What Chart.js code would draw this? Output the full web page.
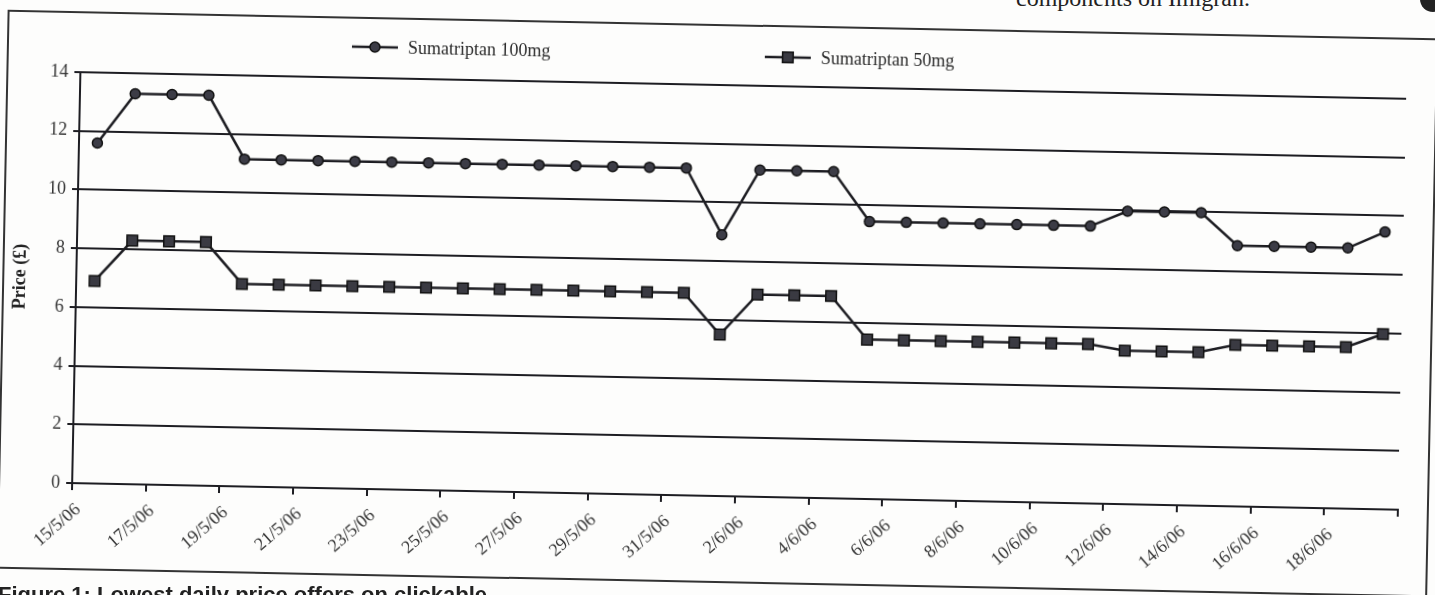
<!DOCTYPE html>
<html>
<head>
<meta charset="utf-8">
<script src="https://cdn.jsdelivr.net/npm/chart.js@4.4.0/dist/chart.umd.min.js"></script>
<style>
  html, body { margin: 0; padding: 0; background: #fdfdfc; overflow: hidden; }
  body { width: 1435px; height: 595px; position: relative; }
  /* the scanned figure sits slightly skewed on the page */
  #fig { position: absolute; left: 0; top: 0; width: 1435px; height: 595px;
         transform-origin: 717.5px 297.5px; transform: rotate(1.15deg); }
  #frame { position: absolute; left: 2px; top: 24px; width: 1431px; height: 559px;
           box-sizing: border-box; border: 2px solid #333; }
  #chart { position: absolute; left: 0; top: 0; }
  #caption { position: absolute; left: -2px; top: 582px; white-space: nowrap;
             font: bold 22px "Liberation Sans", Arial, sans-serif; color: #222; }
  #pagetext { position: absolute; right: 185px; top: -15px; line-height: 1; white-space: nowrap;
              font: 24px "Liberation Serif", serif; color: #222; }
  #dot { position: absolute; left: 1420px; top: -14px; width: 26px; height: 26px;
         border-radius: 50%; background: #222; }
</style>
</head>
<body>
<div id="pagetext">components on Imigran.</div>
<div id="dot"></div>
<div id="fig">
  <div id="frame"></div>
  <canvas id="chart" width="1435" height="595"></canvas>
</div>
<div id="caption">Figure 1: Lowest daily price offers on clickable</div>
<script>
var days = ['15/5/06', '16/5/06', '17/5/06', '18/5/06', '19/5/06', '20/5/06', '21/5/06', '22/5/06',
  '23/5/06', '24/5/06', '25/5/06', '26/5/06', '27/5/06', '28/5/06', '29/5/06', '30/5/06', '31/5/06',
  '1/6/06', '2/6/06', '3/6/06', '4/6/06', '5/6/06', '6/6/06', '7/6/06', '8/6/06', '9/6/06', '10/6/06',
  '11/6/06', '12/6/06', '13/6/06', '14/6/06', '15/6/06', '16/6/06', '17/6/06', '18/6/06', '19/6/06'];

var price100 = [11.6, 13.3, 13.3, 13.3, 11.15, 11.15, 11.15, 11.15, 11.15, 11.15, 11.15, 11.15,
  11.15, 11.15, 11.15, 11.15, 11.15, 8.9, 11.13, 11.13, 11.13, 9.45, 9.45, 9.45, 9.45, 9.45, 9.45,
  9.45, 9.98, 9.98, 9.98, 8.88, 8.88, 8.88, 8.88, 9.45];

var price50 = [6.9, 8.3, 8.3, 8.3, 6.9, 6.9, 6.9, 6.9, 6.9, 6.9, 6.9, 6.9, 6.9, 6.9, 6.9, 6.9, 6.9,
  5.5, 6.89, 6.89, 6.89, 5.43, 5.43, 5.43, 5.43, 5.43, 5.43, 5.43, 5.23, 5.23, 5.23, 5.5, 5.5, 5.5,
  5.5, 5.97];

var yMin = 0, yMax = 14, yStep = 2;

var serif = '"Liberation Serif", "Times New Roman", serif';
var ink = '#1d1d22';

// legend spots (line start x, centre y) for each series
var legendSpots = [{x: 347, y: 54}, {x: 760, y: 56}];

var lineLegend = {
  id: 'lineLegend',
  afterDraw: function (chart) {
    var ctx = chart.ctx;
    ctx.save();
    chart.data.datasets.forEach(function (ds, i) {
      var s = legendSpots[i];
      ctx.strokeStyle = ds.borderColor;
      ctx.lineWidth = ds.borderWidth;
      ctx.beginPath();
      ctx.moveTo(s.x, s.y);
      ctx.lineTo(s.x + 46, s.y);
      ctx.stroke();
      ctx.fillStyle = ds.pointBackgroundColor;
      ctx.strokeStyle = ds.pointBorderColor;
      ctx.lineWidth = ds.pointBorderWidth;
      ctx.beginPath();
      if (ds.pointStyle === 'rect') {
        var h = ds.pointRadius * Math.SQRT1_2;
        ctx.rect(s.x + 23 - h, s.y - h, 2 * h, 2 * h);
      } else {
        ctx.arc(s.x + 23, s.y, ds.pointRadius, 0, Math.PI * 2);
      }
      ctx.fill();
      ctx.stroke();
      ctx.fillStyle = '#2a2a2a';
      ctx.font = '18px ' + serif;
      ctx.textBaseline = 'middle';
      ctx.fillText(ds.label, s.x + 56, s.y + 1);
    });
    ctx.restore();
  }
};

new Chart(document.getElementById('chart'), {
  type: 'line',
  plugins: [lineLegend],
  data: {
    labels: days,
    datasets: [{
      label: 'Sumatriptan 100mg',
      data: price100,
      borderColor: ink, borderWidth: 2.5, tension: 0,
      pointStyle: 'circle', pointRadius: 5,
      pointBackgroundColor: '#3c3c46', pointBorderColor: '#111', pointBorderWidth: 1.5
    }, {
      label: 'Sumatriptan 50mg',
      data: price50,
      borderColor: ink, borderWidth: 2.5, tension: 0,
      pointStyle: 'rect', pointRadius: 7.5,
      pointBackgroundColor: '#3a3a42', pointBorderColor: '#111', pointBorderWidth: 1.5
    }]
  },
  options: {
    responsive: false, animation: false, devicePixelRatio: 1,
    layout: {padding: {left: 0, top: 85, right: 33, bottom: 4}},
    plugins: {legend: {display: false}, tooltip: {enabled: false}},
    scales: {
      x: {
        offset: true,
        afterFit: function (s) { s.height = 95; },
        grid: {
          offset: true, drawOnChartArea: false, drawTicks: true, tickLength: 7, lineWidth: 2,
          color: function (c) { return (c.index === undefined || c.index % 2 === 0) ? ink : 'rgba(0,0,0,0)'; }
        },
        border: {display: true, color: ink, width: 2},
        ticks: {
          autoSkip: false, minRotation: 42, maxRotation: 42, padding: 9, labelOffset: -12,
          color: '#333', font: {family: serif, size: 18},
          callback: function (v, i) { return i % 2 === 0 ? this.getLabelForValue(v) : ''; }
        }
      },
      y: {
        min: yMin, max: yMax,
        afterFit: function (s) { s.width = 76; },
        grid: {color: ink, lineWidth: 2, drawTicks: true, tickLength: 6},
        border: {display: true, color: ink, width: 2},
        ticks: {stepSize: yStep, padding: 6, color: '#333', font: {family: serif, size: 18}},
        title: {display: true, text: 'Price (£)', color: '#222', padding: {top: 10, bottom: 0},
                font: {family: serif, size: 18, weight: 'bold'}}
      }
    }
  }
});
</script>
</body>
</html>
